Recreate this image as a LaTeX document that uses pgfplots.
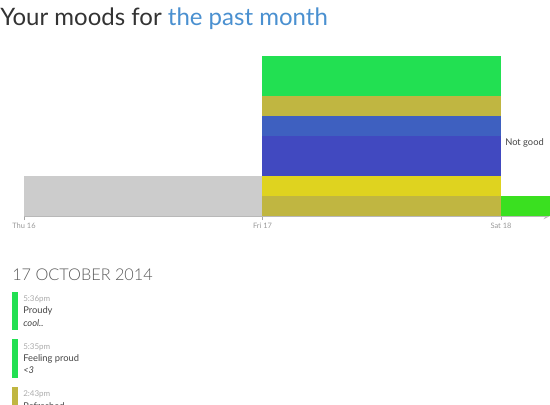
\documentclass[border=0pt]{standalone}
\usepackage{pgfplots}
\pgfplotsset{compat=1.18}
\usepackage{fontspec}
\setmainfont{Lato}
\IfFontExistsTF{Lato Light}{\newfontfamily\lightfont{Lato Light}}{\newfontfamily\lightfont{Lato}}
\definecolor{cgray}{HTML}{CCCCCC}
\definecolor{colive}{HTML}{C0B641}
\definecolor{cyellow}{HTML}{DFD31F}
\definecolor{cdblue}{HTML}{4149C0}
\definecolor{cblue}{HTML}{3E60C0}
\definecolor{cgreen}{HTML}{22E052}
\definecolor{clime}{HTML}{3AE020}
\definecolor{ctitle}{HTML}{333333}
\definecolor{clink}{HTML}{4A90D0}
\definecolor{ctick}{HTML}{999999}
\definecolor{ctext}{HTML}{444444}
\definecolor{ctime}{HTML}{AAAAAA}
\begin{document}
\begin{tikzpicture}
\path[use as bounding box] (0,0) rectangle (412.5pt,-303pt);
\begin{axis}[
  at={(18pt,-162pt)}, anchor=south west,
  scale only axis, width=394.5pt, height=120pt,
  xmin=16, xmax=18.2055, ymin=0, ymax=8,
  axis x line=bottom, axis y line=none,
  axis line style={draw=black!28, line width=1.1pt},
  xtick={16,17,18}, xticklabels={Thu 16,Fri 17,Sat 18},
  tick align=outside, major tick length=3pt,
  tick style={draw=black!35, line width=0.6pt},
  xticklabel style={font=\fontsize{5.6}{6}\selectfont, text=ctick, yshift=1pt},
  ytick=\empty,
  ybar stacked, bar width=1,
  every axis plot/.append style={draw=none},
]
\addplot[fill=cgray] coordinates {(16.5,2) (17.5,0) (18.5,0)};
\addplot[fill=colive] coordinates {(16.5,0) (17.5,1) (18.5,0)};
\addplot[fill=clime] coordinates {(16.5,0) (17.5,0) (18.5,1)};
\addplot[fill=cyellow] coordinates {(16.5,0) (17.5,1) (18.5,0)};
\addplot[fill=cdblue] coordinates {(16.5,0) (17.5,2) (18.5,0)};
\addplot[fill=cblue] coordinates {(16.5,0) (17.5,1) (18.5,0)};
\addplot[fill=colive] coordinates {(16.5,0) (17.5,1) (18.5,0)};
\addplot[fill=cgreen] coordinates {(16.5,0) (17.5,2) (18.5,0)};
\end{axis}
\begin{scope}[x=0.75pt,y=-0.75pt]
\node[anchor=base west, inner sep=0, font=\fontsize{18}{20}\selectfont] at (0,25)
  {\textcolor{ctitle}{Your moods for} \textcolor{clink}{the past month}};
\node[anchor=base west, inner sep=0, font=\fontsize{7}{8}\selectfont, text=ctext] at (505,145) {Not good};
\node[anchor=base west, inner sep=0, font=\lightfont\fontsize{12.2}{14}\selectfont, text=black!65] at (12,280) {17 OCTOBER 2014};
\fill[cgreen] (12,292) rectangle (18,329.5);
\fill[cgreen] (12,339) rectangle (18,377.5);
\fill[colive] (12,386.5) rectangle (18,420);
\begin{scope}[every node/.style={anchor=base west, inner sep=0}]
\node[font=\fontsize{6}{7}\selectfont, text=ctime] at (23,301) {5:36pm};
\node[font=\fontsize{7}{8}\selectfont, text=ctext] at (23,313.5) {Proudy};
\node[font=\fontsize{7}{8}\selectfont\itshape, text=ctext] at (23,326.5) {cool..};
\node[font=\fontsize{6}{7}\selectfont, text=ctime] at (23,349) {5:35pm};
\node[font=\fontsize{7}{8}\selectfont, text=ctext] at (23,361) {Feeling proud};
\node[font=\fontsize{7}{8}\selectfont\itshape, text=ctext] at (23,373.5) {<3};
\node[font=\fontsize{6}{7}\selectfont, text=ctime] at (23,396.5) {2:43pm};
\node[font=\fontsize{7}{8}\selectfont, text=ctext] at (23,409) {Refreshed};
\end{scope}
\end{scope}
\end{tikzpicture}
\end{document}
